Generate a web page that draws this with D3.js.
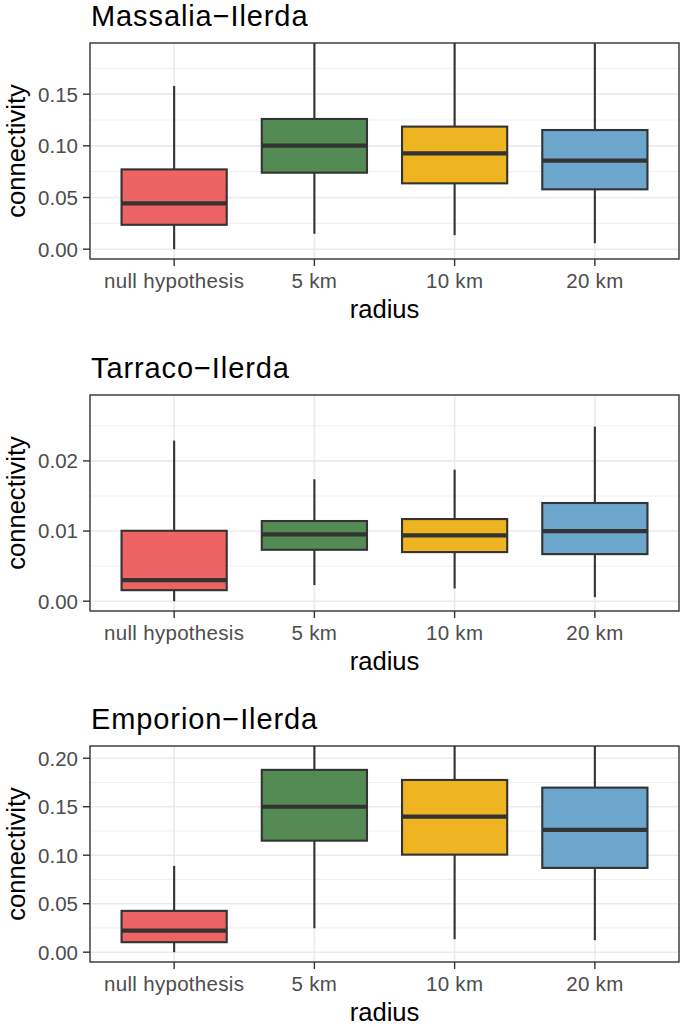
<!DOCTYPE html>
<html><head><meta charset="utf-8">
<script src="https://cdn.jsdelivr.net/npm/d3@7"></script>
<style>
html,body{margin:0;padding:0;background:#fff;}
svg text{font-family:"Liberation Sans",Arial,sans-serif;}
</style></head>
<body>
<svg id="chart" width="685" height="1027"></svg>
<script>
const categories = ["null hypothesis", "5 km", "10 km", "20 km"];
const colors = ["#EE6363", "#548B54", "#EEB422", "#6CA6CD"];
const titles = ["Massalia\u2212Ilerda", "Tarraco\u2212Ilerda", "Emporion\u2212Ilerda"];
const yLimits = [[0, 0.19], [0, 0.028], [0, 0.2025]];
const yTicks = [[0, 0.05, 0.10, 0.15], [0, 0.01, 0.02], [0, 0.05, 0.10, 0.15, 0.20]];
const yMinor = [[0.025, 0.075, 0.125, 0.175], [0.005, 0.015, 0.025], [0.025, 0.075, 0.125, 0.175]];
const tickFormat = [".2f", ".2f", ".2f"];
// [lower whisker, Q1, median, Q3, upper whisker]
const massalia = [
  [0.000, 0.0236, 0.0443, 0.0772, 0.158],
  [0.0149, 0.074, 0.1002, 0.126, 0.24],
  [0.0136, 0.0637, 0.0927, 0.1186, 0.24],
  [0.0058, 0.0579, 0.0857, 0.1153, 0.24]
];
const tarraco = [
  [0.000, 0.00157, 0.0030, 0.01004, 0.0229],
  [0.00229, 0.00733, 0.00953, 0.01143, 0.01738],
  [0.00181, 0.0070, 0.00938, 0.01171, 0.01876],
  [0.00057, 0.00671, 0.0100, 0.0140, 0.0249]
];
const emporion = [
  [0.000, 0.0103, 0.0223, 0.0426, 0.089],
  [0.0247, 0.115, 0.150, 0.188, 0.26],
  [0.0134, 0.1006, 0.1398, 0.1776, 0.26],
  [0.0124, 0.0869, 0.1261, 0.1697, 0.26]
];
const panelsData = [massalia, tarraco, emporion];
const panelTops = [43, 395, 746];
const panelH = [216, 216, 216];

const svg = d3.select("#chart");
const left = 90, right = 679;
const dark = "#333333";

panelsData.forEach((data, p) => {
  const top = panelTops[p], bottom = top + panelH[p];
  const [a, b] = yLimits[p];
  const ex = (b - a) * 0.05;
  const y = d3.scaleLinear().domain([a - ex, b + ex]).range([bottom, top]);
  // ggplot discrete axis: 0.6 units of expansion on each side
  const x = d3.scalePoint().domain(categories).range([left, right]).padding(0.6);
  const unit = x.step();
  const cx = c => x(c);
  const g = svg.append("g");
  const clipId = "clip" + p;
  g.append("clipPath").attr("id", clipId).append("rect")
    .attr("x", left).attr("y", top).attr("width", right - left).attr("height", bottom - top);

  // grid
  g.selectAll(".minor").data(yMinor[p]).join("line")
    .attr("x1", left).attr("x2", right).attr("y1", d => y(d)).attr("y2", d => y(d))
    .attr("stroke", "#EBEBEB").attr("stroke-width", 0.8);
  g.selectAll(".major").data(yTicks[p]).join("line")
    .attr("x1", left).attr("x2", right).attr("y1", d => y(d)).attr("y2", d => y(d))
    .attr("stroke", "#EBEBEB").attr("stroke-width", 1.6);
  g.selectAll(".vmajor").data(categories).join("line")
    .attr("x1", d => cx(d)).attr("x2", d => cx(d)).attr("y1", top).attr("y2", bottom)
    .attr("stroke", "#EBEBEB").attr("stroke-width", 1.6);

  const boxes = g.append("g").attr("clip-path", `url(#${clipId})`);
  const bw = unit * 0.75;
  data.forEach((d, i) => {
    const c = categories[i];
    const xc = cx(c);
    boxes.append("line").attr("x1", xc).attr("x2", xc).attr("y1", y(d[3])).attr("y2", y(d[4]))
      .attr("stroke", dark).attr("stroke-width", 2.1);
    boxes.append("line").attr("x1", xc).attr("x2", xc).attr("y1", y(d[1])).attr("y2", y(d[0]))
      .attr("stroke", dark).attr("stroke-width", 2.1);
    boxes.append("rect").attr("x", xc - bw / 2).attr("width", bw)
      .attr("y", y(d[3])).attr("height", y(d[1]) - y(d[3]))
      .attr("fill", colors[i]).attr("stroke", dark).attr("stroke-width", 2.1);
    boxes.append("line").attr("x1", xc - bw / 2).attr("x2", xc + bw / 2).attr("y1", y(d[2])).attr("y2", y(d[2]))
      .attr("stroke", dark).attr("stroke-width", 4.2);
  });

  // border
  g.append("rect").attr("x", left).attr("y", top).attr("width", right - left).attr("height", bottom - top)
    .attr("fill", "none").attr("stroke", dark).attr("stroke-width", 1.4);

  // y axis ticks
  const fmt = d3.format(tickFormat[p]);
  yTicks[p].forEach(t => {
    g.append("line").attr("x1", left - 7).attr("x2", left).attr("y1", y(t)).attr("y2", y(t))
      .attr("stroke", dark).attr("stroke-width", 1.4);
    g.append("text").attr("x", left - 12).attr("y", y(t)).attr("dy", "0.36em")
      .attr("text-anchor", "end").attr("font-size", 20.5).attr("fill", "#4D4D4D").text(fmt(t));
  });
  // x axis ticks
  categories.forEach(c => {
    g.append("line").attr("x1", cx(c)).attr("x2", cx(c)).attr("y1", bottom).attr("y2", bottom + 7)
      .attr("stroke", dark).attr("stroke-width", 1.4);
    g.append("text").attr("x", cx(c)).attr("y", bottom + 29)
      .attr("text-anchor", "middle").attr("font-size", 20.5).attr("letter-spacing", 0.3)
      .attr("fill", "#4D4D4D").text(c);
  });
  // axis titles
  g.append("text").attr("x", (left + right) / 2).attr("y", bottom + 59)
    .attr("text-anchor", "middle").attr("font-size", 25.6).attr("fill", "#000").text("radius");
  g.append("text").attr("transform", `translate(25,${(top + bottom) / 2}) rotate(-90)`)
    .attr("text-anchor", "middle").attr("font-size", 25.6).attr("fill", "#000").text("connectivity");
  // title
  g.append("text").attr("x", left + 1).attr("y", top - 16.7)
    .attr("font-size", 29).attr("letter-spacing", 0.9).attr("fill", "#000").text(titles[p]);
});
</script>
</body></html>
